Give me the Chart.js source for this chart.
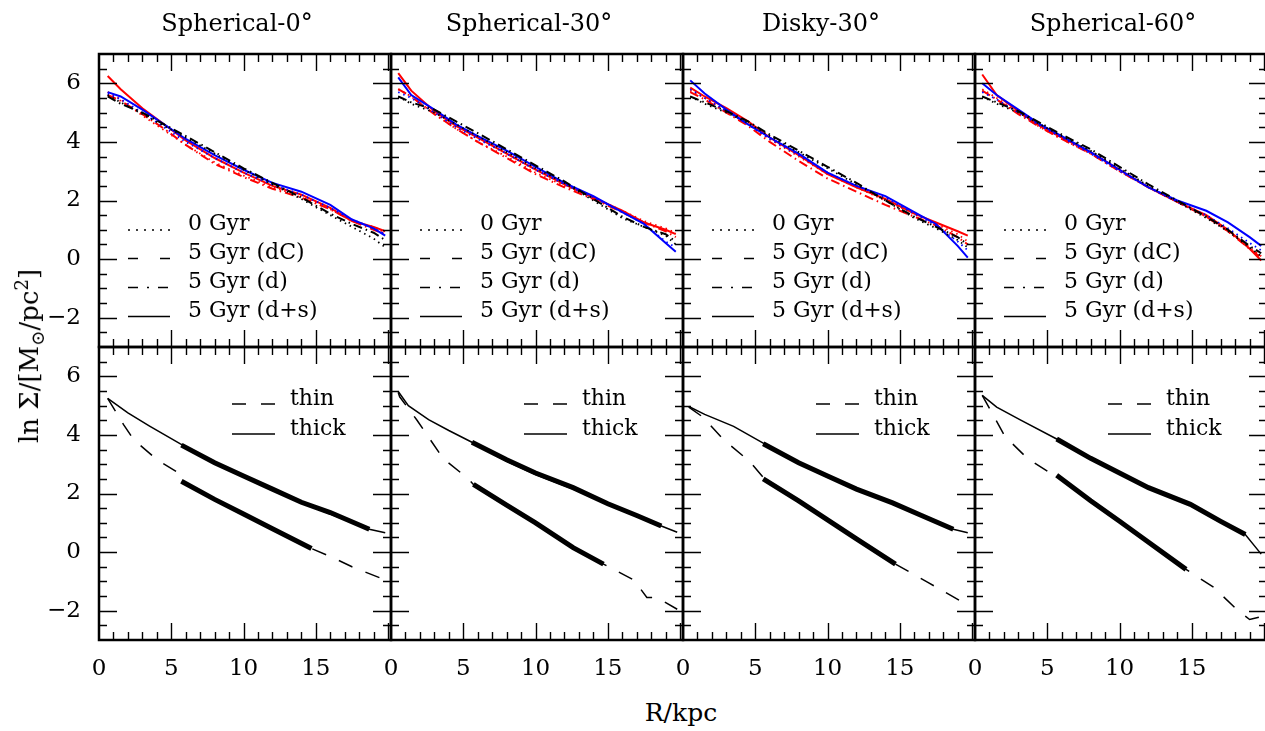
<!DOCTYPE html>
<html>
<head>
<meta charset="utf-8">
<script src="https://cdn.jsdelivr.net/npm/chart.js@4.4.0/dist/chart.umd.min.js"></script>
<style>
  body { margin: 0; background: #fff; width: 1265px; height: 731px; position: relative; overflow: hidden; font-family: 'DejaVu Serif', serif; color: #000; }
  canvas { position: absolute; }
  .lbl { position: absolute; white-space: nowrap; line-height: 1; }
</style>
</head>
<body>
<script>
// ---- labels / ticks ----
const panelTitles = ['Spherical-0°', 'Spherical-30°', 'Disky-30°', 'Spherical-60°'];
const xTicks = [0, 5, 10, 15];
const yTicks = [-2, 0, 2, 4, 6];
const yTickLabels = ['\u22122', '0', '2', '4', '6'];
const topLegend = ['0 Gyr', '5 Gyr (dC)', '5 Gyr (d)', '5 Gyr (d+s)'];
const bottomLegend = ['thin', 'thick'];

// ---- top row: surface density profiles ----
const R_sph0 = [0.6, 1.5, 3, 4.5, 6, 8, 10, 12, 14, 16, 17.5, 19, 19.8];
const sph0_k_dot = [5.6, 5.35, 4.95, 4.55, 4.15, 3.6, 3.05, 2.55, 2.05, 1.5, 1.1, 0.7, 0.4];
const sph0_k_dd  = [5.55, 5.3, 5.0, 4.6, 4.2, 3.65, 3.1, 2.6, 2.1, 1.55, 1.2, 0.9, 0.65];
const sph0_b_dot = [5.65, 5.45, 5.0, 4.5, 4.0, 3.45, 2.95, 2.55, 2.2, 1.75, 1.35, 1.05, 0.85];
const sph0_b_sol = [5.7, 5.55, 5.1, 4.6, 4.1, 3.55, 3.05, 2.6, 2.3, 1.85, 1.35, 1.05, 0.8];
const sph0_r_dot = [5.7, 5.45, 4.9, 4.4, 3.9, 3.3, 2.85, 2.45, 2.15, 1.7, 1.3, 1.1, 0.9];
const sph0_r_dd  = [5.6, 5.4, 4.95, 4.45, 3.9, 3.25, 2.8, 2.4, 2.1, 1.7, 1.3, 1.0, 0.85];
const sph0_r_sol = [6.25, 5.8, 5.15, 4.6, 4.05, 3.45, 2.95, 2.5, 2.2, 1.75, 1.3, 1.1, 0.95];

const R_sph30 = [0.5, 1.4, 3, 4.5, 6, 8, 10, 12, 14, 16, 17.5, 19, 19.7];
const sph30_k_dot = [5.55, 5.3, 5.0, 4.6, 4.2, 3.65, 3.1, 2.6, 2.0, 1.4, 1.1, 0.8, 0.5];
const sph30_k_dd  = [5.55, 5.35, 5.1, 4.7, 4.3, 3.75, 3.2, 2.65, 2.05, 1.45, 1.1, 0.85, 0.6];
const sph30_b_dot = [5.7, 5.5, 5.0, 4.5, 4.1, 3.6, 3.05, 2.55, 2.1, 1.6, 1.2, 0.6, 0.4];
const sph30_b_sol = [6.2, 5.6, 5.1, 4.6, 4.2, 3.7, 3.15, 2.6, 2.15, 1.6, 1.2, 0.55, 0.25];
const sph30_r_dot = [5.8, 5.55, 4.95, 4.45, 4.0, 3.5, 2.95, 2.5, 2.1, 1.65, 1.3, 1.05, 0.9];
const sph30_r_dd  = [5.8, 5.55, 4.95, 4.45, 4.0, 3.45, 2.9, 2.45, 2.05, 1.6, 1.25, 0.95, 0.75];
const sph30_r_sol = [6.35, 5.75, 5.05, 4.55, 4.15, 3.6, 3.05, 2.55, 2.1, 1.65, 1.25, 1.0, 0.85];

const R_disk30 = [0.5, 1.5, 3, 4.5, 6, 8, 10, 12, 14, 16, 17.5, 19, 19.7];
const disk30_k_dot = [5.55, 5.3, 5.0, 4.65, 4.2, 3.65, 3.1, 2.55, 2.0, 1.4, 1.05, 0.65, 0.4];
const disk30_k_dd  = [5.55, 5.35, 5.05, 4.7, 4.25, 3.7, 3.15, 2.6, 2.0, 1.45, 1.1, 0.75, 0.5];
const disk30_b_dot = [5.8, 5.5, 5.05, 4.6, 4.1, 3.55, 2.95, 2.5, 2.1, 1.55, 1.15, 0.6, 0.3];
const disk30_b_sol = [6.1, 5.65, 5.1, 4.6, 4.15, 3.6, 2.95, 2.5, 2.15, 1.6, 1.2, 0.45, 0.05];
const disk30_r_dot = [5.75, 5.5, 5.05, 4.6, 4.1, 3.5, 2.9, 2.45, 2.0, 1.55, 1.2, 0.85, 0.6];
const disk30_r_dd  = [5.7, 5.45, 5.0, 4.55, 4.0, 3.35, 2.75, 2.3, 1.85, 1.45, 1.15, 0.75, 0.5];
const disk30_r_sol = [5.85, 5.55, 5.15, 4.7, 4.15, 3.55, 2.9, 2.45, 2.05, 1.55, 1.25, 0.95, 0.8];

const R_sph60 = [0.5, 1.5, 3, 4.5, 6, 8, 10, 12, 14, 16, 17.5, 19, 19.8];
const sph60_k_dot = [5.55, 5.3, 5.0, 4.6, 4.2, 3.7, 3.1, 2.5, 1.95, 1.4, 0.95, 0.4, 0.1];
const sph60_k_dd  = [5.55, 5.35, 5.05, 4.65, 4.25, 3.75, 3.15, 2.55, 2.0, 1.45, 1.0, 0.45, 0.2];
const sph60_b_dot = [5.7, 5.45, 5.0, 4.55, 4.15, 3.6, 3.0, 2.45, 1.95, 1.5, 1.05, 0.55, 0.3];
const sph60_b_sol = [6.0, 5.6, 5.1, 4.6, 4.2, 3.65, 3.05, 2.45, 2.0, 1.65, 1.25, 0.75, 0.45];
const sph60_r_dot = [5.8, 5.5, 5.0, 4.5, 4.1, 3.6, 3.0, 2.45, 1.95, 1.45, 0.95, 0.4, 0.1];
const sph60_r_dd  = [5.75, 5.45, 4.95, 4.5, 4.1, 3.6, 3.0, 2.45, 1.95, 1.45, 0.95, 0.35, 0.05];
const sph60_r_sol = [6.3, 5.6, 5.05, 4.55, 4.15, 3.65, 3.05, 2.45, 1.95, 1.5, 1.0, 0.35, -0.05];

// ---- bottom row: thin / thick disc decomposition ----
const b0_thinR  = [0.6, 1.7, 2.4, 4, 5.5, 5.7, 8, 10, 12, 14.7, 16, 17.5, 19.8];
const b0_thinY  = [5.25, 4.35, 3.84, 3.16, 2.7, 2.42, 1.8, 1.3, 0.8, 0.12, -0.15, -0.5, -0.95];
const b0_thickR = [0.6, 2, 3.5, 5.6, 8, 10, 12, 14, 16, 18.7, 19.8];
const b0_thickY = [5.25, 4.75, 4.3, 3.7, 3.05, 2.6, 2.15, 1.7, 1.3, 0.78, 0.66];
const b0_fitThinR  = [5.7, 8, 10, 12, 14.7];
const b0_fitThinY  = [2.42, 1.8, 1.3, 0.8, 0.12];
const b0_fitThickR = [5.7, 8, 10, 12, 14, 16, 18.7];
const b0_fitThickY = [3.65, 3.05, 2.6, 2.15, 1.7, 1.35, 0.78];

const b1_thinR  = [0.5, 0.6, 1.8, 3.6, 5.35, 5.7, 8, 10, 12.6, 14.7, 16.8, 17.7, 18.4, 19.8];
const b1_thinY  = [5.45, 5.3, 4.5, 3.2, 2.5, 2.31, 1.6, 1.0, 0.15, -0.41, -0.95, -1.55, -1.55, -1.95];
const b1_thickR = [0.5, 1.2, 2.6, 4, 5.6, 8, 10, 12.6, 15, 17, 18.7, 19.8];
const b1_thickY = [5.48, 5.0, 4.52, 4.15, 3.75, 3.1, 2.65, 2.15, 1.65, 1.25, 0.89, 0.68];
const b1_fitThinR  = [5.7, 8, 10, 12.6, 14.7];
const b1_fitThinY  = [2.31, 1.6, 1.0, 0.15, -0.41];
const b1_fitThickR = [5.6, 8, 10, 12.6, 15, 17, 18.7];
const b1_fitThickY = [3.75, 3.15, 2.7, 2.2, 1.65, 1.25, 0.89];

const b2_thinR  = [0.4, 1.4, 2.8, 4.6, 5.55, 8, 10, 12, 14.7, 17, 19.6];
const b2_thinY  = [4.95, 4.6, 3.84, 3.1, 2.55, 1.75, 1.1, 0.45, -0.41, -1.05, -1.78];
const b2_thickR = [0.4, 1.5, 3.5, 5.55, 8, 10, 12, 14.5, 16.5, 18.7, 19.7];
const b2_thickY = [4.97, 4.7, 4.29, 3.72, 3.05, 2.55, 2.15, 1.68, 1.25, 0.78, 0.66];
const b2_fitThinR  = [5.55, 8, 10, 12, 14.7];
const b2_fitThinY  = [2.5, 1.75, 1.1, 0.45, -0.41];
const b2_fitThickR = [5.55, 8, 10, 12, 14.5, 16.5, 18.7];
const b2_fitThickY = [3.7, 3.05, 2.6, 2.15, 1.68, 1.25, 0.78];

const b3_thinR  = [0.5, 2.07, 3.6, 5.2, 5.65, 8, 10, 11.6, 14.6, 16.5, 18.2, 19.0, 19.8];
const b3_thinY  = [5.35, 3.95, 3.21, 2.7, 2.62, 1.75, 1.05, 0.48, -0.59, -1.2, -2.0, -2.3, -2.2];
const b3_thickR = [0.5, 1.5, 3.1, 5.65, 8, 10, 12, 14.9, 17, 18.7, 19.8];
const b3_thickY = [5.35, 4.95, 4.52, 3.86, 3.2, 2.7, 2.2, 1.63, 1.05, 0.6, -0.07];
const b3_fitThinR  = [5.65, 8, 10, 11.6, 14.6];
const b3_fitThinY  = [2.62, 1.75, 1.05, 0.48, -0.59];
const b3_fitThickR = [5.65, 8, 10, 12, 14.9, 17, 18.7];
const b3_fitThickY = [3.86, 3.2, 2.7, 2.2, 1.63, 1.05, 0.6];

// ---- layout ----
const PL = 99, PT = 54, PW = 292, PH = 293;
const ML = 60, MR = 20, MT = 34, MB = 40;
const X_MAX = 20.2, Y_MIN = -3, Y_MAX = 7;

const DOT = [1.5, 4], DASH = [15, 14], DASHDOT = [9, 4, 1.5, 4];
// styles of the 7 curves in each top panel (black, blue, red)
const topStyles = [
  { c: '#000000', dash: DOT, w: 1.8 },
  { c: '#000000', dash: DASHDOT, w: 2 },
  { c: '#0000ff', dash: DOT, w: 1.8 },
  { c: '#0000ff', dash: [], w: 2 },
  { c: '#ff0000', dash: DOT, w: 1.8 },
  { c: '#ff0000', dash: DASHDOT, w: 2 },
  { c: '#ff0000', dash: [], w: 2 }
];

const topPanels = [
  { R: R_sph0, lines: [sph0_k_dot, sph0_k_dd, sph0_b_dot, sph0_b_sol, sph0_r_dot, sph0_r_dd, sph0_r_sol] },
  { R: R_sph30, lines: [sph30_k_dot, sph30_k_dd, sph30_b_dot, sph30_b_sol, sph30_r_dot, sph30_r_dd, sph30_r_sol] },
  { R: R_disk30, lines: [disk30_k_dot, disk30_k_dd, disk30_b_dot, disk30_b_sol, disk30_r_dot, disk30_r_dd, disk30_r_sol] },
  { R: R_sph60, lines: [sph60_k_dot, sph60_k_dd, sph60_b_dot, sph60_b_sol, sph60_r_dot, sph60_r_dd, sph60_r_sol] }
];

const bottomPanels = [
  [b0_thinR, b0_thinY, b0_thickR, b0_thickY, b0_fitThinR, b0_fitThinY, b0_fitThickR, b0_fitThickY],
  [b1_thinR, b1_thinY, b1_thickR, b1_thickY, b1_fitThinR, b1_fitThinY, b1_fitThickR, b1_fitThickY],
  [b2_thinR, b2_thinY, b2_thickR, b2_thickY, b2_fitThinR, b2_fitThinY, b2_fitThickR, b2_fitThickY],
  [b3_thinR, b3_thinY, b3_thickR, b3_thickY, b3_fitThinR, b3_fitThinY, b3_fitThickR, b3_fitThickY]
];

function pts(rs, ys) {
  return rs.map((r, i) => ({ x: r, y: ys[i] }));
}

function addLabel(html, left, top, size, extra) {
  const d = document.createElement('div');
  d.className = 'lbl';
  d.innerHTML = html;
  d.style.left = left + 'px';
  d.style.top = top + 'px';
  d.style.fontSize = size + 'px';
  if (extra) Object.assign(d.style, extra);
  document.body.appendChild(d);
  return d;
}

// frame and inward ticks on all four sides
const framePlugin = {
  id: 'frame',
  afterDatasetsDraw(chart) {
    const { ctx, chartArea: a, scales } = chart;
    const x = scales.x, y = scales.y;
    ctx.save();
    ctx.strokeStyle = '#000';
    ctx.lineWidth = 1.4;
    ctx.beginPath();
    for (let v = 1; v < X_MAX; v += 1) {
      const px = Math.round(x.getPixelForValue(v)) + 0.5;
      const len = v % 5 === 0 ? 17 : 8;
      ctx.moveTo(px, a.top); ctx.lineTo(px, a.top + len);
      ctx.moveTo(px, a.bottom); ctx.lineTo(px, a.bottom - len);
    }
    for (let v = Y_MIN + 0.5; v < Y_MAX; v += 0.5) {
      const py = Math.round(y.getPixelForValue(v)) + 0.5;
      const len = v % 2 === 0 ? 18 : 8;
      ctx.moveTo(a.left, py); ctx.lineTo(a.left + len, py);
      ctx.moveTo(a.right, py); ctx.lineTo(a.right - len, py);
    }
    ctx.stroke();
    ctx.lineWidth = 2.5;
    ctx.strokeRect(a.left, a.top, a.right - a.left, a.bottom - a.top);
    ctx.restore();
  }
};

// little line samples of the legends
const samplePlugin = {
  id: 'samples',
  afterDatasetsDraw(chart, args, opts) {
    const { ctx, chartArea: a } = chart;
    ctx.save();
    ctx.strokeStyle = '#000';
    ctx.lineWidth = 1.6;
    opts.rows.forEach(row => {
      ctx.setLineDash(row.dash);
      ctx.beginPath();
      ctx.moveTo(a.left + opts.x0, a.top + row.y);
      ctx.lineTo(a.left + opts.x1, a.top + row.y);
      ctx.stroke();
    });
    ctx.restore();
  }
};

const topSampleRows = [
  { y: 176, dash: [2, 6] },
  { y: 204.5, dash: [10, 22] },
  { y: 233.5, dash: [10, 9, 2, 9] },
  { y: 262.5, dash: [] }
];
const bottomSampleRows = [
  { y: 57, dash: [14, 15] },
  { y: 87, dash: [] }
];

function makeChart(row, col, datasets, sampleOpts) {
  const cv = document.createElement('canvas');
  const w = PW + ML + MR, h = PH + MT + MB;
  cv.width = w; cv.height = h;
  cv.style.width = w + 'px'; cv.style.height = h + 'px';
  cv.style.left = (PL + col * PW - ML) + 'px';
  cv.style.top = (PT + row * PH - MT) + 'px';
  document.body.appendChild(cv);

  new Chart(cv.getContext('2d'), {
    type: 'scatter',
    data: { datasets: datasets },
    options: {
      responsive: false,
      animation: false,
      devicePixelRatio: 1,
      layout: { padding: { left: 0, top: MT, right: MR, bottom: 0 } },
      plugins: {
        legend: { display: false },
        tooltip: { enabled: false },
        samples: sampleOpts
      },
      elements: { point: { radius: 0 }, line: { tension: 0 } },
      scales: {
        x: {
          type: 'linear', min: 0, max: X_MAX,
          grid: { display: false }, border: { display: false },
          afterBuildTicks: s => { s.ticks = xTicks.map(v => ({ value: v })); },
          afterFit: s => { s.height = MB; },
          ticks: {
            display: row === 1, maxRotation: 0, autoSkip: false, padding: 7, color: '#000',
            font: { family: 'DejaVu Serif', size: 23 },
            callback: v => String(v)
          }
        },
        y: {
          type: 'linear', min: Y_MIN, max: Y_MAX,
          grid: { display: false }, border: { display: false },
          afterBuildTicks: s => { s.ticks = yTicks.map(v => ({ value: v })); },
          afterFit: s => { s.width = ML; },
          ticks: {
            display: col === 0, autoSkip: false, padding: 10, color: '#000',
            font: { family: 'DejaVu Serif', size: 23 },
            callback: v => yTickLabels[yTicks.indexOf(v)]
          }
        }
      }
    },
    plugins: [framePlugin, samplePlugin]
  });
}

// top row
topPanels.forEach((p, c) => {
  const ds = p.lines.map((ys, i) => ({
    data: pts(p.R, ys),
    showLine: true,
    borderColor: topStyles[i].c,
    borderDash: topStyles[i].dash,
    borderWidth: topStyles[i].w,
    fill: false
  }));
  makeChart(0, c, ds, { x0: 29, x1: 71, rows: topSampleRows });
});

// bottom row
bottomPanels.forEach((p, c) => {
  const ds = [
    { data: pts(p[0], p[1]), showLine: true, borderColor: '#000', borderDash: DASH, borderWidth: 1.5 },
    { data: pts(p[2], p[3]), showLine: true, borderColor: '#000', borderWidth: 1.5 },
    { data: pts(p[4], p[5]), showLine: true, borderColor: '#000', borderWidth: 5 },
    { data: pts(p[6], p[7]), showLine: true, borderColor: '#000', borderWidth: 5 }
  ];
  makeChart(1, c, ds, { x0: 133, x1: 176, rows: bottomSampleRows });
});

// titles
panelTitles.forEach((t, c) => {
  addLabel(t, PL + c * PW + PW / 2 - 8, 11, 24, { transform: 'translateX(-50%)' });
});

// legend texts (baseline ~0.846em below div top for DejaVu Serif, line-height 1)
const LFS = 22;
for (let c = 0; c < 4; c++) {
  topLegend.forEach((t, i) => {
    addLabel(t, PL + c * PW + 89, PT + topSampleRows[i].y + 1 - 0.846 * LFS, LFS);
  });
  bottomLegend.forEach((t, i) => {
    addLabel(t, PL + c * PW + 191, PT + PH + bottomSampleRows[i].y + 2 - 0.846 * LFS, LFS);
  });
}

// axis titles
addLabel('ln \u03A3/[M<sub style="font-size:0.7em">\u2299</sub>/pc<sup style="font-size:0.7em">2</sup>]', 30, 356, 26,
  { transform: 'translate(-50%, -50%) rotate(-90deg)' });
addLabel('R/kpc', 681, 712, 25, { transform: 'translate(-50%, -50%)' });
</script>
</body>
</html>
